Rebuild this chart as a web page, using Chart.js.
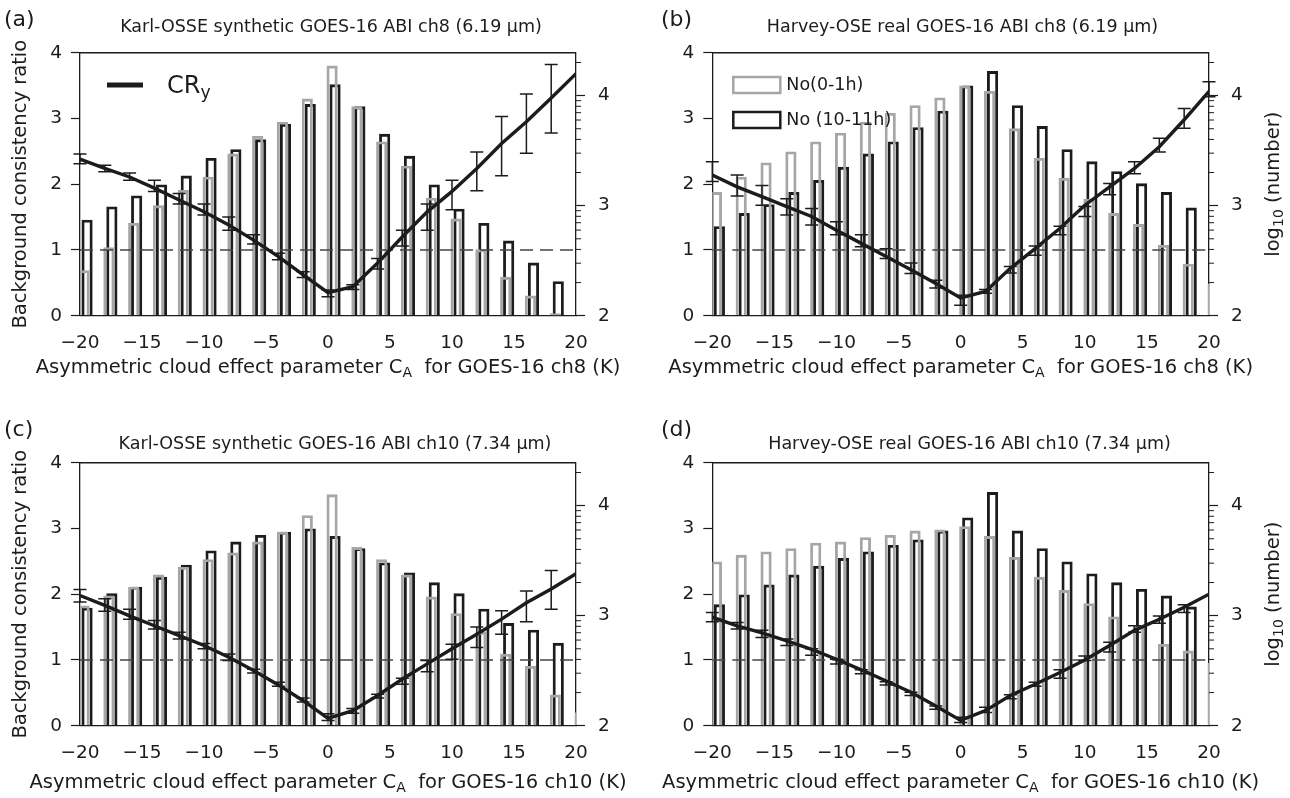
<!DOCTYPE html>
<html>
<head>
<meta charset="utf-8">
<title>Background consistency ratio vs asymmetric cloud effect</title>
<script src="https://cdn.jsdelivr.net/npm/chart.js@4.4.1/dist/chart.umd.min.js"></script>
<style>
  body { margin: 0; background: #fff; }
  #fig { position: relative; width: 1290px; height: 798px; }
  .panel { position: absolute; width: 645px; height: 399px; }
</style>
</head>
<body>
<div id="fig">
  <div class="panel" style="left:0;top:0"><canvas id="panelA" width="645" height="399"></canvas></div>
  <div class="panel" style="left:645px;top:0"><canvas id="panelB" width="645" height="399"></canvas></div>
  <div class="panel" style="left:0;top:399px"><canvas id="panelC" width="645" height="399"></canvas></div>
  <div class="panel" style="left:645px;top:399px"><canvas id="panelD" width="645" height="399"></canvas></div>
</div>
<script>
// C_A bins (K); counts are log10(number) per bin, ratios on the left axis
var bins = [-20, -18, -16, -14, -12, -10, -8, -6, -4, -2, 0, 2, 4, 6, 8, 10, 12, 14, 16, 18, 20];
var xTicks = [-20, -15, -10, -5, 0, 5, 10, 15, 20];
var ratioTicks = [0, 1, 2, 3, 4];
var countTicks = [2, 3, 4];
var unityRatio = 1;

// (a) Karl-OSSE synthetic ch8
var aCountEarly = [2.41, 2.62, 2.84, 3.00, 3.14, 3.26, 3.47, 3.63, 3.76, 3.97, 4.27, 3.90, 3.58, 3.36, 3.07, 2.88, 2.60, 2.35, 2.18, 2.02, 2.00];
var aCountLate  = [2.87, 2.99, 3.09, 3.19, 3.27, 3.43, 3.51, 3.60, 3.74, 3.92, 4.10, 3.90, 3.65, 3.45, 3.19, 2.97, 2.84, 2.68, 2.48, 2.31, 2.00];
var aRatio = [2.38, 2.24, 2.11, 1.94, 1.76, 1.58, 1.38, 1.15, 0.90, 0.62, 0.35, 0.44, 0.80, 1.20, 1.58, 1.89, 2.24, 2.62, 2.95, 3.31, 3.68];
var aErrLo = [2.31, 2.19, 2.06, 1.89, 1.70, 1.53, 1.30, 1.09, 0.85, 0.58, 0.29, 0.40, 0.71, 1.06, 1.30, 1.61, 1.90, 2.13, 2.47, 2.78, null];
var aErrHi = [2.46, 2.29, 2.17, 2.06, 1.86, 1.70, 1.50, 1.23, 0.95, 0.67, 0.39, 0.47, 0.87, 1.30, 1.70, 2.06, 2.49, 3.03, 3.37, 3.82, null];

// (b) Harvey-OSE real ch8
var bCountEarly = [3.12, 3.26, 3.39, 3.49, 3.58, 3.66, 3.76, 3.84, 3.91, 3.98, 4.09, 4.04, 3.70, 3.43, 3.25, 3.06, 2.93, 2.83, 2.64, 2.47, 2.29];
var bCountLate  = [2.81, 2.93, 3.01, 3.12, 3.23, 3.35, 3.47, 3.58, 3.71, 3.86, 4.09, 4.22, 3.91, 3.72, 3.51, 3.40, 3.31, 3.20, 3.12, 2.98, 2.00];
var bRatio = [2.14, 1.96, 1.81, 1.66, 1.51, 1.30, 1.10, 0.90, 0.70, 0.49, 0.27, 0.37, 0.72, 1.02, 1.33, 1.68, 1.96, 2.24, 2.57, 2.98, 3.41];
var bErrLo = [2.04, 1.82, 1.68, 1.53, 1.38, 1.23, 1.05, 0.87, 0.64, 0.42, 0.16, 0.34, 0.65, 0.92, 1.23, 1.51, 1.84, 2.16, 2.49, 2.85, 3.33];
var bErrHi = [2.34, 2.14, 1.98, 1.78, 1.63, 1.43, 1.23, 1.02, 0.80, 0.54, 0.31, 0.40, 0.75, 1.06, 1.36, 1.66, 2.01, 2.34, 2.70, 3.15, 3.56];

// (c) Karl-OSSE synthetic ch10
var cCountEarly = [3.09, 3.18, 3.26, 3.37, 3.44, 3.51, 3.57, 3.67, 3.76, 3.91, 4.10, 3.62, 3.51, 3.37, 3.17, 3.02, 2.85, 2.65, 2.54, 2.28, 2.12];
var cCountLate  = [3.07, 3.20, 3.26, 3.35, 3.46, 3.59, 3.67, 3.73, 3.76, 3.79, 3.72, 3.61, 3.48, 3.39, 3.30, 3.20, 3.06, 2.93, 2.87, 2.75, 2.00];
var cRatio = [1.98, 1.83, 1.67, 1.52, 1.37, 1.22, 1.04, 0.84, 0.62, 0.38, 0.11, 0.23, 0.46, 0.71, 0.94, 1.17, 1.39, 1.62, 1.87, 2.08, 2.31];
var cErrLo = [1.88, 1.74, 1.62, 1.47, 1.32, 1.17, 0.99, 0.80, 0.60, 0.36, 0.08, 0.19, 0.42, 0.63, 0.82, 1.01, 1.19, 1.39, 1.58, 1.77, null];
var cErrHi = [2.07, 1.93, 1.77, 1.60, 1.42, 1.25, 1.09, 0.86, 0.66, 0.42, 0.18, 0.26, 0.48, 0.72, 0.99, 1.24, 1.50, 1.75, 2.05, 2.36, null];

// (d) Harvey-OSE real ch10
var dCountEarly = [3.49, 3.55, 3.58, 3.61, 3.66, 3.67, 3.71, 3.73, 3.77, 3.78, 3.81, 3.72, 3.53, 3.35, 3.23, 3.11, 2.99, 2.90, 2.74, 2.68, 2.57];
var dCountLate  = [3.10, 3.19, 3.28, 3.37, 3.45, 3.52, 3.58, 3.64, 3.69, 3.77, 3.89, 4.12, 3.77, 3.61, 3.49, 3.38, 3.30, 3.24, 3.18, 3.08, 2.00];
var dRatio = [1.65, 1.52, 1.41, 1.29, 1.16, 1.01, 0.85, 0.68, 0.51, 0.30, 0.08, 0.23, 0.46, 0.63, 0.81, 1.00, 1.22, 1.45, 1.62, 1.80, 2.00];
var dErrLo = [1.58, 1.47, 1.34, 1.22, 1.07, 0.94, 0.79, 0.62, 0.46, 0.25, 0.05, 0.20, 0.41, 0.60, 0.72, 0.99, 1.12, 1.42, 1.56, 1.72, null];
var dErrHi = [1.72, 1.57, 1.45, 1.32, 1.17, 1.01, 0.85, 0.67, 0.51, 0.30, 0.13, 0.28, 0.47, 0.66, 0.85, 1.06, 1.27, 1.52, 1.67, 1.84, null];

var FONT = '"DejaVu Sans", sans-serif';
var INK = '#1c1c1c';
var GREY = '#a6a6a6';
var earlyShift = 0.33, lateShift = 0.57;

Chart.defaults.font.family = FONT;
Chart.defaults.color = INK;

// draws a run of text with optional subscripts, left/center aligned
function richText(ctx, parts, x, y, size, align) {
  var w = 0;
  parts.forEach(function(p) {
    ctx.font = (p.sub ? size * 0.72 : size) + 'px ' + FONT;
    w += ctx.measureText(p.t).width;
  });
  var cx = align === 'center' ? x - w / 2 : x;
  ctx.textAlign = 'left';
  ctx.textBaseline = 'alphabetic';
  parts.forEach(function(p) {
    ctx.font = (p.sub ? size * 0.72 : size) + 'px ' + FONT;
    ctx.fillText(p.t, cx, p.sub ? y + size * 0.22 : y);
    cx += ctx.measureText(p.t).width;
  });
}

var decor = {
  id: 'decor',
  afterDraw: function(chart, args, o) {
    var ctx = chart.ctx, area = chart.chartArea;
    var xs = chart.scales.x, ys = chart.scales.y, y2 = chart.scales.y2;
    ctx.save();
    // top frame
    ctx.strokeStyle = INK;
    ctx.lineWidth = 1.4;
    ctx.beginPath();
    ctx.moveTo(area.left, area.top);
    ctx.lineTo(area.right, area.top);
    ctx.stroke();

    // minor log ticks on the count axis
    ctx.lineWidth = 1;
    for (var n = 2; n <= 4; n++) {
      for (var k = 2; k <= 9; k++) {
        var v = n + Math.log10(k);
        if (v > y2.max) continue;
        var py = y2.getPixelForValue(v);
        ctx.beginPath();
        ctx.moveTo(area.right, py);
        ctx.lineTo(area.right + 5, py);
        ctx.stroke();
      }
    }

    // error bars of the ratio
    ctx.strokeStyle = INK;
    ctx.lineWidth = 1.5;
    bins.forEach(function(b, i) {
      if (o.lo[i] == null) return;
      var px = xs.getPixelForValue(b);
      var p1 = ys.getPixelForValue(o.lo[i]);
      var p2 = ys.getPixelForValue(o.hi[i]);
      ctx.beginPath();
      ctx.moveTo(px, p1); ctx.lineTo(px, p2);
      ctx.moveTo(px - 6.5, p1); ctx.lineTo(px + 6.5, p1);
      ctx.moveTo(px - 6.5, p2); ctx.lineTo(px + 6.5, p2);
      ctx.stroke();
    });

    ctx.fillStyle = INK;
    // panel letter and title
    ctx.font = '22px ' + FONT;
    ctx.textAlign = 'left';
    ctx.textBaseline = 'alphabetic';
    ctx.fillText(o.letter, o.letterX, o.letterY);
    ctx.font = '17.5px ' + FONT;
    ctx.textAlign = 'center';
    ctx.fillText(o.title, o.titleX, o.titleY);

    // x-axis label with subscript
    richText(ctx, [{t: 'Asymmetric cloud effect parameter C'}, {t: 'A', sub: true},
      {t: '  for GOES-16 ' + o.chan + ' (K)'}], (area.left + area.right) / 2, o.xlabelY, 19.5, 'center');

    // right axis label
    if (o.rightLabel) {
      ctx.save();
      ctx.translate(o.rightLabelX, (area.top + area.bottom) / 2);
      ctx.rotate(-Math.PI / 2);
      richText(ctx, [{t: 'log'}, {t: '10', sub: true}, {t: ' (number)'}], 0, 7, 19.5, 'center');
      ctx.restore();
    }

    // legends
    if (o.legend === 'ratio') {
      ctx.strokeStyle = INK;
      ctx.lineWidth = 5;
      ctx.beginPath();
      ctx.moveTo(area.left + 27, 85);
      ctx.lineTo(area.left + 63, 85);
      ctx.stroke();
      richText(ctx, [{t: 'CR'}, {t: 'y', sub: true}], area.left + 87, 93, 24, 'left');
    } else if (o.legend === 'counts') {
      var lx = area.left + 21;
      ctx.lineWidth = 2.5;
      ctx.strokeStyle = GREY;
      ctx.strokeRect(lx, 77, 47, 16);
      ctx.strokeStyle = INK;
      ctx.strokeRect(lx, 112, 47, 16);
      ctx.font = '17.5px ' + FONT;
      ctx.textAlign = 'left';
      ctx.textBaseline = 'middle';
      ctx.fillText('No(0-1h)', lx + 53, 85);
      ctx.fillText('No (10-11h)', lx + 53, 120);
    }
    ctx.restore();
  }
};

function makePanel(id, p) {
  var g = p.geom;
  return new Chart(document.getElementById(id), {
    type: 'bar',
    data: {
      datasets: [
        {
          type: 'line', label: 'CRy', yAxisID: 'y', order: 1,
          data: bins.map(function(b, i) { return {x: b, y: p.ratio[i]}; }),
          borderColor: INK, borderWidth: 3.4, pointRadius: 0, tension: 0
        },
        {
          type: 'line', label: 'ratio = 1', yAxisID: 'y', order: 2,
          data: [{x: bins[0], y: unityRatio}, {x: bins[bins.length - 1], y: unityRatio}],
          borderColor: '#444', borderWidth: 1.4, borderDash: [13, 7], pointRadius: 0
        },
        {
          label: 'No(0-1h)', yAxisID: 'y2', order: 3, base: 2, clip: 0,
          data: bins.map(function(b, i) { return {x: b + earlyShift, y: p.early[i]}; }),
          backgroundColor: 'rgba(0,0,0,0)', borderColor: GREY, borderWidth: 2.2,
          grouped: false, barThickness: 10.5
        },
        {
          label: 'No (10-11h)', yAxisID: 'y2', order: 3, base: 2, clip: 0,
          data: bins.map(function(b, i) { return {x: b + lateShift, y: p.late[i]}; }),
          backgroundColor: 'rgba(0,0,0,0)', borderColor: INK, borderWidth: 2.2,
          grouped: false, barThickness: 10.5
        }
      ]
    },
    options: {
      responsive: false,
      animation: false,
      events: [],
      layout: { padding: { top: g.top, left: 0, right: 0, bottom: 0 } },
      plugins: {
        legend: { display: false },
        tooltip: { enabled: false },
        decor: p.decor
      },
      scales: {
        x: {
          type: 'linear', min: -20, max: 20, offset: false,
          afterFit: function(s) { s.height = g.xh; },
          afterBuildTicks: function(s) { s.ticks = xTicks.map(function(v) { return {value: v}; }); },
          grid: { display: false },
          border: { display: true, color: INK, width: 1.3 },
          ticks: {
            padding: 8, font: { size: 18.5 },
            callback: function(v) { return v < 0 ? '\u2212' + Math.abs(v) : String(v); }
          }
        },
        y: {
          position: 'left', min: 0, max: 4,
          afterFit: function(s) { s.width = g.left; },
          afterBuildTicks: function(s) { s.ticks = ratioTicks.map(function(v) { return {value: v}; }); },
          grid: { drawOnChartArea: false, drawTicks: true, tickLength: 9, color: INK, tickWidth: 1.2 },
          border: { display: true, color: INK, width: 1.3 },
          ticks: { padding: 9, font: { size: 18.5 } },
          title: {
            display: p.leftLabel, text: 'Background consistency ratio',
            font: { size: 19.5 }, padding: { top: 9, bottom: 0 }
          }
        },
        y2: {
          position: 'right', min: 2, max: 4.39,
          afterFit: function(s) { s.width = g.right; },
          afterBuildTicks: function(s) { s.ticks = countTicks.map(function(v) { return {value: v}; }); },
          grid: { drawOnChartArea: false, drawTicks: true, tickLength: 9, color: INK, tickWidth: 1.2 },
          border: { display: true, color: INK, width: 1.3 },
          ticks: { padding: 13, font: { size: 18.5 } }
        }
      }
    },
    plugins: [decor]
  });
}

makePanel('panelA', {
  early: aCountEarly, late: aCountLate, ratio: aRatio, leftLabel: true,
  geom: { top: 52.7, xh: 83.3, left: 80, right: 69 },
  decor: { lo: aErrLo, hi: aErrHi, letter: '(a)', letterX: 4, letterY: 26,
    title: 'Karl-OSSE synthetic GOES-16 ABI ch8 (6.19 \u00b5m)', titleX: 331, titleY: 32,
    chan: 'ch8', xlabelY: 373, legend: 'ratio' }
});
makePanel('panelB', {
  early: bCountEarly, late: bCountLate, ratio: bRatio, leftLabel: false,
  geom: { top: 52.7, xh: 83.3, left: 67.3, right: 81 },
  decor: { lo: bErrLo, hi: bErrHi, letter: '(b)', letterX: 16, letterY: 26,
    title: 'Harvey-OSE real GOES-16 ABI ch8 (6.19 \u00b5m)', titleX: 317.5, titleY: 32,
    chan: 'ch8', xlabelY: 373, legend: 'counts', rightLabel: true, rightLabelX: 627 }
});
makePanel('panelC', {
  early: cCountEarly, late: cCountLate, ratio: cRatio, leftLabel: true,
  geom: { top: 63.7, xh: 72.3, left: 80, right: 69 },
  decor: { lo: cErrLo, hi: cErrHi, letter: '(c)', letterX: 4, letterY: 37,
    title: 'Karl-OSSE synthetic GOES-16 ABI ch10 (7.34 \u00b5m)', titleX: 335, titleY: 50,
    chan: 'ch10', xlabelY: 389 }
});
makePanel('panelD', {
  early: dCountEarly, late: dCountLate, ratio: dRatio, leftLabel: false,
  geom: { top: 63.7, xh: 72.3, left: 67.3, right: 81 },
  decor: { lo: dErrLo, hi: dErrHi, letter: '(d)', letterX: 16, letterY: 37,
    title: 'Harvey-OSE real GOES-16 ABI ch10 (7.34 \u00b5m)', titleX: 324.5, titleY: 50,
    chan: 'ch10', xlabelY: 389, rightLabel: true, rightLabelX: 627 }
});
</script>
</body>
</html>
